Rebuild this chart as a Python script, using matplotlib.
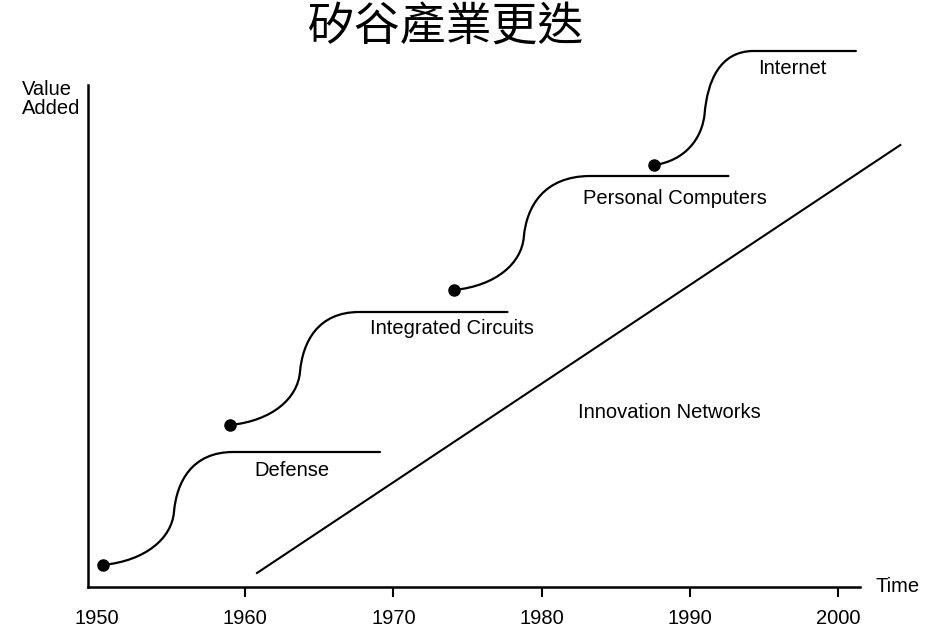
import matplotlib
matplotlib.use('Agg')
import matplotlib.pyplot as plt
from matplotlib.path import Path
from matplotlib.patches import PathPatch

plt.rcParams['font.family'] = ['Liberation Sans', 'DejaVu Sans']

# waves of industry: start dot, steepest point, start of plateau, end of plateau
names = ['Defense', 'Integrated Circuits', 'Personal Computers', 'Internet']
start_x = [1950.4, 1959.0, 1974.1, 1987.6]
start_y = [4.4, 32.4, 59.4, 84.4]
mid_x = [1955.2, 1963.7, 1978.8, 1991.0]
mid_y = [15.0, 43.0, 70.0, 94.8]
top_x = [1959.2, 1967.7, 1983.3, 1994.3]
top_y = [27.0, 55.0, 82.2, 107.2]
end_x = [1969.1, 1977.7, 1992.6, 2001.2]

label_x = [1960.65, 1968.4, 1982.8, 1994.6]
label_y = [23.4, 51.8, 77.8, 103.8]

# innovation networks line
net_x = [1960.8, 2004.2]
net_y = [2.8, 88.4]
net_label = 'Innovation Networks'
net_label_pos = (1982.45, 34.8)

years = [1950, 1960, 1970, 1980, 1990, 2000]
year_labels = ['1950', '1960', '1970', '1980', '1990', '2000']


def s_curve(sx, sy, mx, my, tx, ty, ex):
    # two cubic bezier pieces, nearly vertical at the middle
    d = 0.03
    c1 = (sx + 0.6 * (mx - sx), sy + 0.08 * (my - sy))
    a = 0.5 * (my - sy)
    c2 = (mx - a * d, my - a)
    b = 0.5 * (ty - my)
    c3 = (mx + b * d, my + b)
    c4 = (mx + 0.3 * (tx - mx), ty)
    verts = [(sx, sy), c1, c2, (mx, my), c3, c4, (tx, ty), (ex, ty)]
    codes = [Path.MOVETO, Path.CURVE4, Path.CURVE4, Path.CURVE4,
             Path.CURVE4, Path.CURVE4, Path.CURVE4, Path.LINETO]
    return Path(verts, codes)


fig = plt.figure(figsize=(9.3, 6.29), dpi=100)
ax = fig.add_axes([88 / 930, 1 - 587 / 629, (910 - 88) / 930, (587 - 40) / 629])
ax.set_xlim(1949.4, 2004.85)
ax.set_ylim(0, 109.4)

for i in range(len(names)):
    p = s_curve(start_x[i], start_y[i], mid_x[i], mid_y[i],
                top_x[i], top_y[i], end_x[i])
    ax.add_patch(PathPatch(p, facecolor='none', edgecolor='black', lw=1.6,
                           capstyle='round', clip_on=False))
    ax.plot(start_x[i], start_y[i], 'o', color='black', markersize=8, clip_on=False)
    ax.text(label_x[i], label_y[i], names[i], fontsize=14.5, ha='left', va='center')

ax.plot(net_x, net_y, color='black', lw=1.5, clip_on=False)
ax.text(net_label_pos[0], net_label_pos[1], net_label, fontsize=14.5,
        ha='left', va='center')

ax.spines['top'].set_visible(False)
ax.spines['right'].set_visible(False)
ax.spines['left'].set_linewidth(1.8)
ax.spines['bottom'].set_linewidth(1.8)
ax.spines['left'].set_bounds(0, 100.5)
ax.spines['bottom'].set_bounds(1949.4, 2001.5)

ax.set_yticks([])
ax.set_xticks(years)
ax.set_xticklabels(year_labels)
ax.tick_params(axis='x', direction='out', length=7, width=1.5, labelsize=14.5, pad=9)
ax.xaxis.get_major_ticks()[0].tick1line.set_visible(False)

ax.text(2002.5, 0, 'Time', fontsize=14.5, ha='left', va='center', clip_on=False)
fig.text(22 / 930, 1 - 80 / 629, 'Value\nAdded', fontsize=14.5, ha='left', va='top',
         linespacing=1.0)

fig.text(446 / 930, 1 - 27 / 629, '矽谷產業更迭', fontsize=33, ha='center', va='center',
         family=['Noto Sans CJK TC', 'DejaVu Sans'], fontweight='light')

fig.savefig('out.png', dpi=100)
plt.close(fig)
